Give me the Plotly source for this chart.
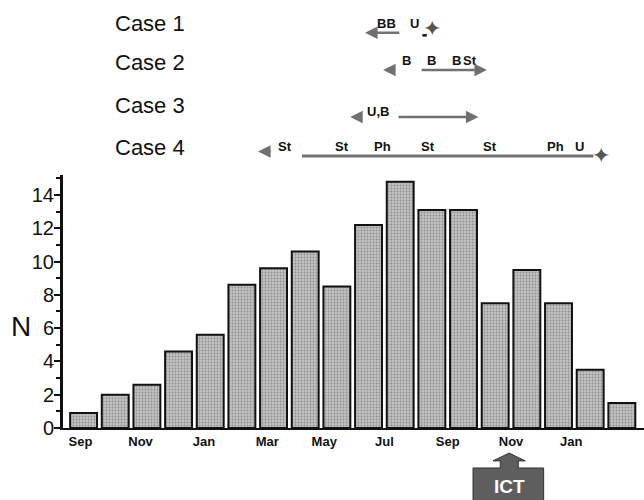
import plotly.graph_objects as go

# ---- data ----
month_index = list(range(18))
counts = [0.9, 2.0, 2.6, 4.6, 5.6, 8.6, 9.6, 10.6, 8.5, 12.2, 14.8, 13.1, 13.1, 7.5, 9.5, 7.5, 3.5, 1.5]
tick_pos = [-0.1, 1.8, 3.8, 5.8, 7.6, 9.5, 11.5, 13.5, 15.4]
tick_labels = ["Sep", "Nov", "Jan", "Mar", "May", "Jul", "Sep", "Nov", "Jan"]

case_names = ["Case 1", "Case 2", "Case 3", "Case 4"]
case_y = [1.600, 1.443, 1.273, 1.107]

# timeline events (month index position, label) per case
case_texts = [
    [(9.58, "BB"), (10.44, "U")],
    [(10.21, "B"), (11.0, "B"), (11.77, "B"), (12.21, "St")],
    [(9.3, "U,B")],
    [(6.37, "St"), (8.17, "St"), (9.43, "Ph"), (10.88, "St"), (12.84, "St"), (14.9, "Ph"), (15.66, "U")],
]
text_y = [1.600, 1.452, 1.250, 1.111]
# arrows: (tip, tail, case)
arrows = [(8.89, 10.02, 0), (9.46, 9.84, 1), (12.74, 10.63, 1), (8.42, 8.67, 2), (12.47, 9.9, 2), (5.51, 5.96, 3)]
arrow_y = [1.5625, 1.415, 1.229, 1.093]
# plain lines: (start, end, case)
lines = [(6.9, 16.1, 3)]
line_y = [1.5625, 1.415, 1.229, 1.075]
stars = [(11.0, 1.58), (16.35, 1.079)]

fig = go.Figure()
fig.add_trace(go.Bar(
    x=month_index, y=counts, width=0.85,
    marker=dict(color="#a8a8a8",
                line=dict(color="#111111", width=2),
                pattern=dict(shape=".", fgcolor="#5a5a5a", bgcolor="#c2c2c2", size=3, solidity=0.3)),
    showlegend=False,
))

font_family = "Liberation Sans, Arial, sans-serif"
annotations = []
shapes = []

for name, yy in zip(case_names, case_y):
    annotations.append(dict(x=0.086, y=yy, xref="paper", yref="paper", text=name, showarrow=False,
                            xanchor="left", yanchor="middle", font=dict(size=22, color="#111", family=font_family)))

for ci, items in enumerate(case_texts):
    for xp, t in items:
        annotations.append(dict(x=xp, y=text_y[ci], xref="x", yref="paper", text=t, showarrow=False,
                                xanchor="center", yanchor="middle",
                                font=dict(size=13, color="#111", family=font_family, weight="bold")))
# small dash mark before the star in Case 1
shapes.append(dict(type="line", x0=10.7, x1=10.84, y0=1.552, y1=1.552, xref="x", yref="paper",
                   line=dict(color="#111", width=2.5)))

for tip, tail, ci in arrows:
    annotations.append(dict(x=tip, y=arrow_y[ci], xref="x", yref="paper", ax=tail, ay=0, axref="x", ayref="pixel",
                            text="", showarrow=True, arrowhead=2, arrowsize=1.0, arrowwidth=2.5, arrowcolor="#707070"))
for x0, x1, ci in lines:
    shapes.append(dict(type="line", x0=x0, x1=x1, y0=line_y[ci], y1=line_y[ci],
                       xref="x", yref="paper", line=dict(color="#707070", width=3)))
for xp, yy in stars:
    annotations.append(dict(x=xp, y=yy, xref="x", yref="paper", text="\u2726", showarrow=False,
                            xanchor="center", yanchor="middle",
                            font=dict(size=22, color="#555", family="DejaVu Sans")))

# ICT arrow box
ict_x = 13.44
path = ("M 13.44,-0.099 L 13.95,-0.130 L 13.73,-0.130 L 13.73,-0.158 L 14.53,-0.158 L 14.53,-0.31 "
        "L 12.3,-0.31 L 12.3,-0.158 L 13.16,-0.158 L 13.16,-0.130 L 12.93,-0.130 Z")
shapes.append(dict(type="path", path=path, xref="x", yref="paper", fillcolor="#5e5e5e",
                   line=dict(color="#333", width=1)))
annotations.append(dict(x=ict_x, y=-0.233, xref="x", yref="paper", text="ICT", showarrow=False,
                        xanchor="center", yanchor="middle",
                        font=dict(size=19, color="white", family=font_family, weight="bold")))

annotations.append(dict(x=-0.072, y=6.1, xref="paper", yref="y", text="N", showarrow=False,
                        xanchor="center", yanchor="middle",
                        font=dict(size=28, color="#111", family=font_family)))

fig.update_layout(
    width=644, height=500,
    margin=dict(l=63, r=0, t=175, b=72),
    plot_bgcolor="white", paper_bgcolor="white",
    annotations=annotations, shapes=shapes,
    xaxis=dict(range=[-0.65, 17.7], tickvals=tick_pos, ticktext=tick_labels, showline=True,
               linecolor="#111", linewidth=2, showgrid=False, zeroline=False, ticks="",
               tickfont=dict(size=13, color="#111", family=font_family, weight="bold")),
    yaxis=dict(range=[0, 15.2], dtick=2, showline=True, linecolor="#111", linewidth=3, showgrid=False,
               zeroline=False, ticks="outside", ticklen=6, tickwidth=2, tickcolor="#111",
               ticklabelstandoff=-4,
               minor=dict(dtick=1, ticks="outside", ticklen=4, tickwidth=1.5, tickcolor="#111"),
               tickfont=dict(size=20, color="#111", family=font_family)),
)

fig.write_html("out.html", config={"displayModeBar": False},
               post_script="document.body.style.margin='0';document.body.style.overflow='hidden';")
